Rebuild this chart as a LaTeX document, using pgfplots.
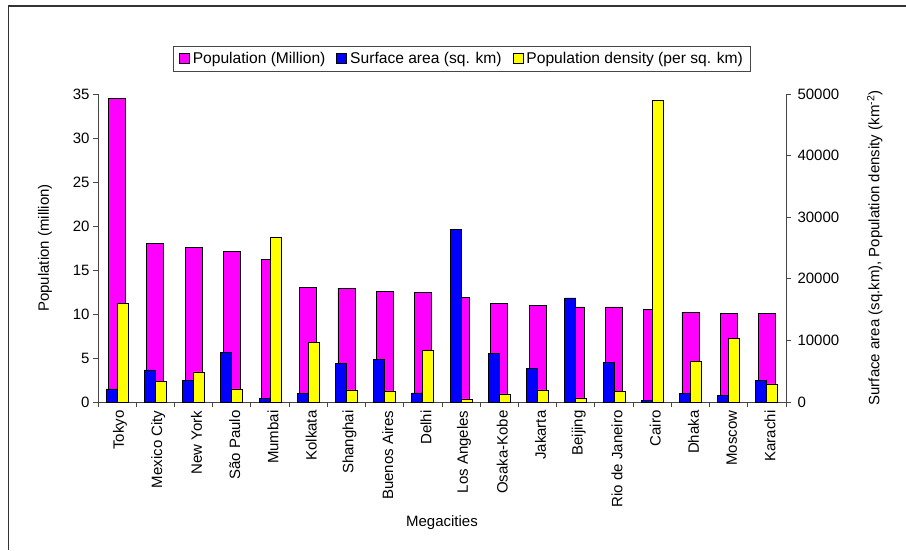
\documentclass[border=0pt]{standalone}
\usepackage{fontspec}
\setmainfont{Liberation Sans}
\usepackage{pgfplots}
\pgfplotsset{compat=1.18}
\usepackage{pgfplotstable}

\definecolor{popcol}{RGB}{255,0,255}
\definecolor{areacol}{RGB}{0,0,255}
\definecolor{denscol}{RGB}{255,255,0}
\definecolor{axcol}{RGB}{70,70,70}

% idx, population (million), surface area (sq. km), density (per sq. km)
\pgfplotstableread{
idx pop   area  dens
0   34.5  2120  15960
1   18.0  5210  3370
2   17.6  3530  4880
3   17.1  7980  2120
4   16.15 600   26770
5   13.05 1350  9660
6   12.94 6240  1950
7   12.6  6950  1790
8   12.5  1470  8310
9   11.9  28020 490
10  11.17 7820  1300
11  11.0  5430  1950
12  10.8  16890 650
13  10.8  6460  1680
14  10.48 214   48900
15  10.2  1460  6610
16  10.1  1030  10250
17  10.1  3530  2930
}\megacities

\newcommand{\txt}{\fontsize{15}{18}\selectfont}
\newcommand{\legtxt}{\fontsize{15.6}{18}\selectfont}

\pgfplotsset{
  common/.style={
    at={(98pt,148pt)}, anchor=south west,
    scale only axis, width=688pt, height=308pt,
    xmin=-0.5, xmax=17.5, ymin=0,
    axis line style={-, axcol, line width=0.9pt},
    every tick/.style={axcol, line width=0.9pt},
    tick align=outside,
    major tick length=5pt, minor tick length=5pt,
    tick label style={font=\txt},
    label style={font=\txt},
    scaled y ticks=false,
    /pgf/number format/assume math mode=true,
    /pgf/number format/1000 sep={},
  },
  sqlegend/.style={
    legend image code/.code={\draw[##1] (0pt,-5pt) rectangle (10pt,5pt);}
  },
}

\begin{document}
\begin{tikzpicture}
\useasboundingbox (0pt,0pt) rectangle (906pt,550pt);
% chart area frame
\draw[line width=1.4pt, black!80] (8.7pt,0pt) -- (8.7pt,544pt) -- (906pt,544pt);

% primary axis: population
\begin{axis}[common,
  ymax=35, ytick={0,5,...,35},
  axis x line*=bottom, axis y line*=left,
  xtick={0,...,17},
  xticklabels={Tokyo, Mexico City, New York, São Paulo, Mumbai, Kolkata, Shanghai, Buenos Aires, Delhi, Los Angeles, Osaka-Kobe, Jakarta, Beijing, Rio de Janeiro, Cairo, Dhaka, Moscow, Karachi},
  xticklabel style={rotate=90, anchor=east, yshift=-3pt},
  major x tick style={draw=none},
  minor xtick={-0.5,0.5,...,17.5},
  xlabel={Megacities},
  xlabel style={at={(axis description cs:0.5,-0.393)}, anchor=center},
  ylabel={Population (million)},
  ylabel style={at={(axis description cs:-0.077,0.5)}, anchor=center},
]
\addplot[ybar, bar width=17pt, bar shift=0pt, fill=popcol, draw=black, line width=0.8pt]
  table[x=idx, y=pop] {\megacities};
\end{axis}

% secondary axis: surface area and density
\begin{axis}[common,
  ymax=50000, ytick={0,10000,...,50000},
  yticklabel style={xshift=3pt},
  axis x line=none, axis y line*=right,
  ylabel={Surface area (sq.km), Population density (km\textsuperscript{-2})},
  ylabel style={at={(axis description cs:1.129,0.5)}, anchor=center, rotate=0},
  legend columns=-1,
  legend style={at={(0.529,1.115)}, anchor=center, draw=axcol, line width=0.9pt,
    font=\legtxt, inner xsep=6pt, inner ysep=4pt,
    /tikz/every odd column/.append style={column sep=1pt},
    /tikz/every even column/.append style={column sep=9pt}},
]
\addlegendimage{fill=popcol, draw=black, line width=0.8pt, sqlegend}
\addlegendentry{Population (Million)}
\addplot[ybar, bar width=11pt, bar shift=-5.5pt, fill=areacol, draw=black, line width=0.8pt, sqlegend]
  table[x=idx, y=area] {\megacities};
\addlegendentry{Surface area (sq. km)}
\addplot[ybar, bar width=11pt, bar shift=5.5pt, fill=denscol, draw=black, line width=0.8pt, sqlegend]
  table[x=idx, y=dens] {\megacities};
\addlegendentry{Population density (per sq. km)}
\end{axis}
\end{tikzpicture}
\end{document}
